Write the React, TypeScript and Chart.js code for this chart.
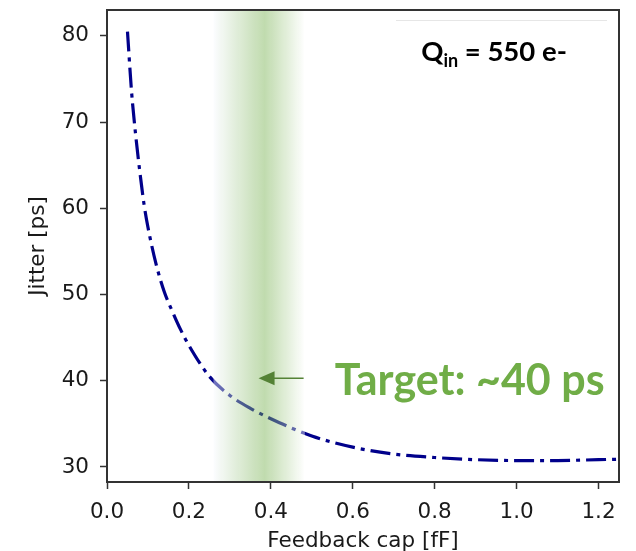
import React, { useEffect, useRef } from "react";
import { Chart, registerables } from "chart.js";

Chart.register(...registerables);

// Feedback capacitance [fF]
const CAP_FF = [0.05, 0.06, 0.07, 0.08, 0.09, 0.10, 0.12, 0.14, 0.16, 0.18, 0.20, 0.25, 0.30, 0.35, 0.40, 0.50, 0.60, 0.70, 0.80, 0.90, 1.00, 1.10, 1.20, 1.25];
// Jitter [ps]
const JITTER_PS = [80.5, 73.5, 68.5, 64.3, 60.6, 57.8, 53.5, 50.3, 48.0, 45.9, 44.1, 40.5, 38.3, 36.8, 35.6, 33.6, 32.3, 31.5, 31.1, 30.85, 30.75, 30.75, 30.85, 30.9];

const X_TICKS = [0.0, 0.2, 0.4, 0.6, 0.8, 1.0, 1.2];
const Y_TICKS = [30, 40, 50, 60, 70, 80];
const X_RANGE = [0, 1.25];
const Y_RANGE = [28.26, 83.0];

const TARGET_BAND_FF = [0.26, 0.483];
const TARGET_TEXT = "Target: ~40 ps";
const ARROW_FROM_TO_FF = [0.48, 0.37];
const ARROW_PS = 40.3;
const TARGET_TEXT_POS = [0.556, 38.3];
const QIN_POS = [0.767, 77.1];

const AXIS_FONT = "DejaVu Sans";

const overlayPlugin = {
  id: "overlay",
  afterDatasetsDraw(chart: any) {
    const { ctx, chartArea: ca, scales } = chart;
    const xs = scales.x;
    const ys = scales.y;
    ctx.save();
    // target band (drawn over the curve)
    const x0 = xs.getPixelForValue(TARGET_BAND_FF[0]);
    const x1 = xs.getPixelForValue(TARGET_BAND_FF[1]);
    const g = ctx.createLinearGradient(x0, 0, x1, 0);
    g.addColorStop(0, "rgba(248,250,255,0.45)");
    g.addColorStop(0.56, "rgba(112,173,71,0.44)");
    g.addColorStop(1, "rgba(255,255,255,0.45)");
    ctx.fillStyle = g;
    ctx.fillRect(x0, ca.top, x1 - x0, ca.bottom - ca.top);

    // arrow
    const ax0 = xs.getPixelForValue(ARROW_FROM_TO_FF[0]);
    const ax1 = xs.getPixelForValue(ARROW_FROM_TO_FF[1]);
    const ay = ys.getPixelForValue(ARROW_PS);
    ctx.strokeStyle = "#548235";
    ctx.fillStyle = "#548235";
    ctx.lineWidth = 1.5;
    ctx.beginPath();
    ctx.moveTo(ax0, ay);
    ctx.lineTo(ax1 + 12, ay);
    ctx.stroke();
    ctx.beginPath();
    ctx.moveTo(ax1, ay);
    ctx.lineTo(ax1 + 16, ay - 7);
    ctx.lineTo(ax1 + 16, ay + 7);
    ctx.closePath();
    ctx.fill();

    // target text
    ctx.fillStyle = "#70AD47";
    ctx.font = "bold 43px Lato";
    ctx.textBaseline = "alphabetic";
    ctx.textAlign = "left";
    ctx.fillText(TARGET_TEXT, xs.getPixelForValue(TARGET_TEXT_POS[0]), ys.getPixelForValue(TARGET_TEXT_POS[1]));

    // Q_in text box
    ctx.strokeStyle = "#e6e6e6";
    ctx.lineWidth = 1;
    ctx.beginPath();
    ctx.moveTo(396, ca.top + 10.5);
    ctx.lineTo(607, ca.top + 10.5);
    ctx.stroke();
    const qx = xs.getPixelForValue(QIN_POS[0]);
    const qy = ys.getPixelForValue(QIN_POS[1]);
    ctx.fillStyle = "#000";
    ctx.font = "bold 27.5px Lato";
    ctx.fillText("Q", qx, qy);
    let w = ctx.measureText("Q").width;
    ctx.font = "bold 18px Lato";
    ctx.fillText("in", qx + w, qy + 6);
    w += ctx.measureText("in").width;
    ctx.font = "bold 27.5px Lato";
    ctx.fillText(" = 550 e-", qx + w, qy);

    // frame
    ctx.strokeStyle = "#333";
    ctx.lineWidth = 2;
    ctx.strokeRect(ca.left, ca.top, ca.right - ca.left, ca.bottom - ca.top);
    ctx.restore();
  },
};

export default function App() {
  const ref = useRef<HTMLCanvasElement | null>(null);
  useEffect(() => {
    if (!ref.current) return;
    const data = CAP_FF.map((c, i) => ({ x: c, y: JITTER_PS[i] }));
    const chart = new Chart(ref.current, {
      type: "line",
      data: {
        datasets: [
          {
            data,
            borderColor: "#00008b",
            borderWidth: 3.2,
            borderDash: [20, 6, 4, 6],
            pointRadius: 0,
            cubicInterpolationMode: "monotone",
            fill: false,
          },
        ],
      },
      options: {
        animation: false,
        responsive: false,
        maintainAspectRatio: false,
        layout: { padding: { top: 10, right: 17, left: 0, bottom: 0 } },
        plugins: { legend: { display: false }, tooltip: { enabled: false } },
        scales: {
          x: {
            type: "linear",
            min: X_RANGE[0],
            max: X_RANGE[1],
            afterBuildTicks: (s: any) => {
              s.ticks = X_TICKS.map((v) => ({ value: v }));
            },
            afterFit: (s: any) => {
              s.height = 69;
              s.paddingLeft = 0;
              s.paddingRight = 0;
            },
            border: { display: false },
            grid: { drawOnChartArea: false, tickLength: 7, tickColor: "#333", tickWidth: 1.5 },
            ticks: {
              color: "#1a1a1a",
              padding: 11,
              font: { family: AXIS_FONT, size: 21.5 },
              maxRotation: 0,
              callback: (v: any) => Number(v).toFixed(1),
            },
            title: {
              display: true,
              text: "Feedback cap [fF]",
              color: "#1a1a1a",
              font: { family: AXIS_FONT, size: 21.5 },
              padding: { top: 0, bottom: -3 },
            },
          },
          y: {
            type: "linear",
            min: Y_RANGE[0],
            max: Y_RANGE[1],
            afterBuildTicks: (s: any) => {
              s.ticks = Y_TICKS.map((v) => ({ value: v }));
            },
            afterFit: (s: any) => {
              s.width = 107;
              s.paddingTop = 0;
              s.paddingBottom = 0;
            },
            border: { display: false },
            grid: { drawOnChartArea: false, tickLength: 7, tickColor: "#333", tickWidth: 1.5 },
            ticks: {
              color: "#1a1a1a",
              padding: 11,
              font: { family: AXIS_FONT, size: 21.5 },
              callback: (v: any) => String(v),
            },
            title: {
              display: true,
              text: "Jitter [ps]",
              color: "#1a1a1a",
              font: { family: AXIS_FONT, size: 21.5 },
              padding: { top: 26, bottom: 0 },
            },
          },
        },
      },
      plugins: [overlayPlugin],
    });
    return () => chart.destroy();
  }, []);
  return (
    <div style={{ position: "fixed", left: 0, top: 0, width: 636, height: 551, background: "#fff" }}>
      <canvas ref={ref} width={636} height={551} style={{ width: 636, height: 551, display: "block" }} />
    </div>
  );
}
